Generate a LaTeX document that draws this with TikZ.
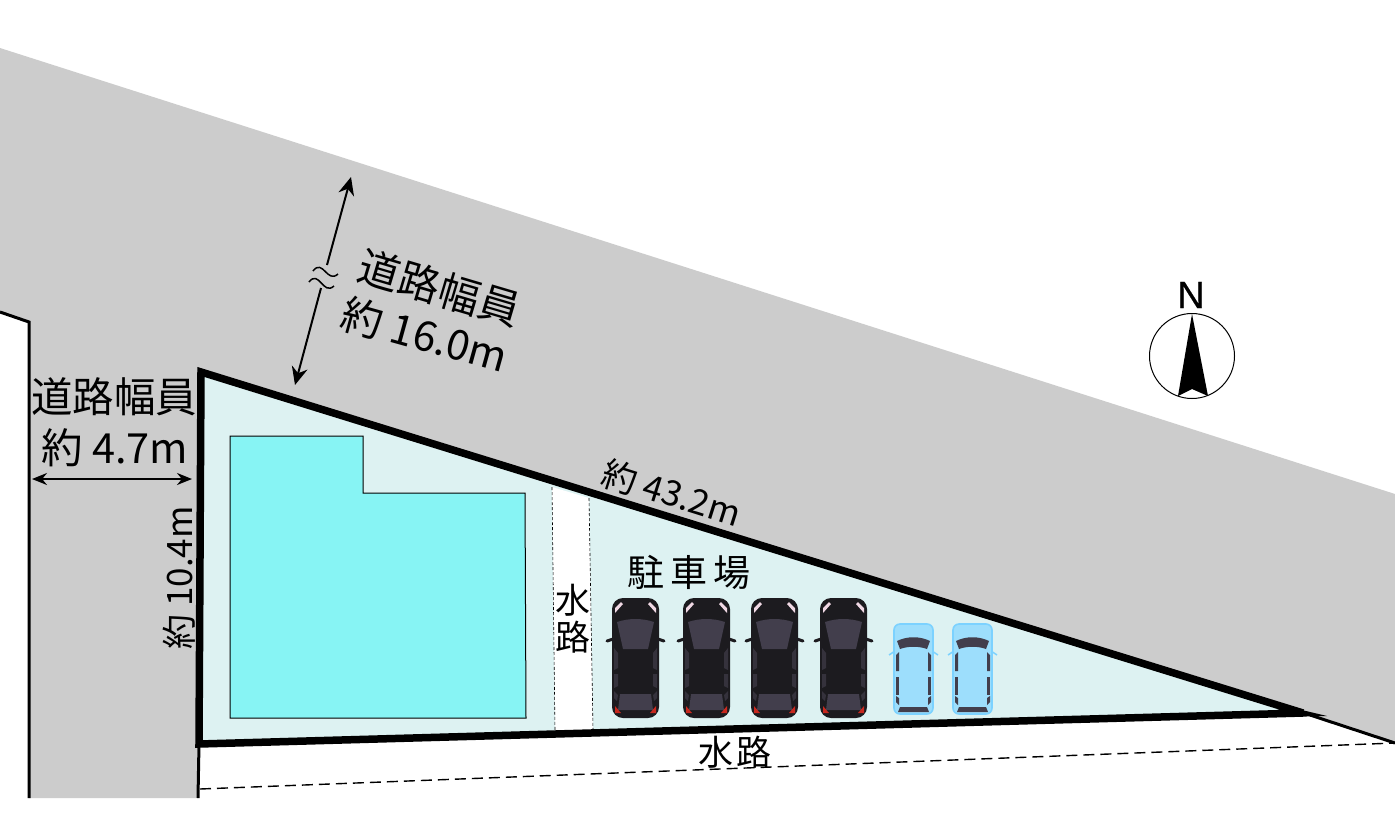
\documentclass[tikz,border=0pt]{standalone}
\usepackage{fontspec}
\setmainfont{Noto Sans CJK JP}
\newfontfamily\latinN[FakeBold=0.6]{Liberation Sans}
\usetikzlibrary{arrows.meta}
\definecolor{roadgray}{HTML}{CCCCCC}
\definecolor{sitecol}{HTML}{DDF2F2}
\definecolor{bldg}{HTML}{87F4F4}
\definecolor{carblack}{HTML}{1C1B1F}
\definecolor{carglass}{HTML}{423E4C}
\definecolor{carside}{HTML}{35323C}
\definecolor{carlight}{HTML}{9DDEFC}
\definecolor{carlightb}{HTML}{7CD2FF}
\definecolor{lamp}{HTML}{F0D8E4}
\definecolor{taillamp}{HTML}{C8281E}
\tikzset{
  x=1pt,y=-1pt,
  label35/.style={inner sep=0pt,font=\fontsize{35}{35}\selectfont},
  label41/.style={inner sep=0pt,font=\fontsize{41.5}{41.5}\selectfont},
  bound/.style={draw=black,line width=3pt,line join=miter},
  dimarrow/.style={draw=black,line width=2pt,{Stealth[length=15pt,width=12pt]}-{Stealth[length=15pt,width=12pt]}},
  halfarrow/.style={draw=black,line width=2pt,-{Stealth[length=18pt,width=16pt]}},
  darkcar/.pic={
    \draw[carblack,line width=3pt,line cap=round] (-5,43) -- (1,41);
    \draw[carblack,line width=3pt,line cap=round] (52,43) -- (46,41);
    \fill[carblack,rounded corners=11pt] (0,0) rectangle (47,120);
    \fill[carglass] (5,24) .. controls (17,20) and (30,20) .. (42,24) -- (36,51) -- (11,51) -- cycle;
    \fill[carglass] (8,96) -- (39,96) -- (41,112) -- (6,112) -- cycle;
    \fill[carside] (2,50) -- (6,55) -- (6,70) -- (2,72) -- cycle;
    \fill[carside] (45,50) -- (41,55) -- (41,70) -- (45,72) -- cycle;
    \fill[carside] (2,76) -- (6,76) -- (6,88) -- (2,90) -- cycle;
    \fill[carside] (45,76) -- (41,76) -- (41,88) -- (45,90) -- cycle;
    \fill[carside] (2,93) -- (6,97) -- (5,103) -- (2,100) -- cycle;
    \fill[carside] (45,93) -- (41,97) -- (42,103) -- (45,100) -- cycle;
    \fill[lamp] (3,15) -- (3,10) -- (9,4) -- (11,6) -- cycle;
    \fill[lamp] (44,15) -- (44,10) -- (38,4) -- (36,6) -- cycle;
    \fill[taillamp] (3,108) -- (9,115) -- (3,115) -- cycle;
    \fill[taillamp] (44,108) -- (38,115) -- (44,115) -- cycle;
  },
  lightcar/.pic={
    \draw[carlightb,line width=1.5pt] (-5,31) -- (1,27);
    \draw[carlightb,line width=1.5pt] (44,31) -- (38,27);
    \filldraw[fill=carlight,draw=carlightb,line width=1.6pt,rounded corners=6pt] (0,0) rectangle (39,90);
    \fill[carglass] (3,17) .. controls (13,12) and (26,12) .. (36,17) -- (33,25) .. controls (25,22) and (14,22) .. (6,25) -- cycle;
    \fill[carglass] (2,31) -- (5,28) -- (5,47) -- (2,47) -- cycle;
    \fill[carglass] (37,31) -- (34,28) -- (34,47) -- (37,47) -- cycle;
    \fill[carglass] (2,53) -- (5,53) -- (5,71) -- (2,71) -- cycle;
    \fill[carglass] (37,53) -- (34,53) -- (34,71) -- (37,71) -- cycle;
    \fill[carglass] (2,72) -- (5,74) -- (5,81) -- (2,78) -- cycle;
    \fill[carglass] (37,72) -- (34,74) -- (34,81) -- (37,78) -- cycle;
    \fill[carglass] (6,83) -- (33,83) -- (35,88) -- (4,88) -- cycle;
  }
}
\begin{document}
\begin{tikzpicture}
\useasboundingbox (0,0) rectangle (1395,815);
\fill[white] (0,0) rectangle (1395,815);
% road
\fill[roadgray] (0,48) -- (1395,494) -- (1395,742) -- (1300,712) -- (200,372) -- (197,798) -- (29,798) -- (29,322) -- (0,312) -- cycle;
% site
\coordinate (siteA) at (201,372);
\coordinate (siteB) at (1303,713);
\coordinate (siteC) at (199,744);
\fill[sitecol] (siteA) -- (siteB) -- (siteC) -- cycle;
% water channel across the site
\fill[white] (552,487) -- (589,498) -- (593,730) -- (555,731) -- cycle;
\draw[black,line width=0.6pt,dash pattern=on 3pt off 2pt] (552,487) -- (555,731);
\draw[black,line width=0.6pt,dash pattern=on 3pt off 2pt] (589,498) -- (593,730);
% building
\filldraw[fill=bldg,draw=black,line width=1pt] (230,436) -- (363,436) -- (363,493) -- (525,493) -- (526,718) -- (230,718) -- cycle;
% site boundary
\draw[black,line width=7.5pt,line join=miter] (siteB) -- (siteA) -- (siteC) -- (siteB);
\fill[black] (1285,706) -- (1327,716) -- (1285,717) -- cycle;
\coordinate (roadEnd) at (1395,743);
\coordinate (tipB) at (1310,715);
\draw[bound] (tipB) -- (roadEnd);
% left road boundary
\coordinate (westA) at (0,312);
\coordinate (westB) at (29,322);
\coordinate (westC) at (29,798);
\draw[bound] (westA) -- (westB) -- (westC);
\coordinate (siteFoot) at (198,798);
\draw[bound] (siteC) -- (siteFoot);
% dashed channel edge
\coordinate (dashA) at (200,789);
\draw[black,line width=1.4pt,dash pattern=on 11pt off 6pt] (dashA) -- (roadEnd);
% cars
\pic at (612,598) {darkcar};
\pic at (683,598) {darkcar};
\pic at (751,598) {darkcar};
\pic at (820,598) {darkcar};
\pic at (894,624) {lightcar};
\pic at (953,624) {lightcar};
% dimension arrows
\coordinate (wA) at (32,479);
\coordinate (wB) at (192,479);
\draw[dimarrow] (wA) -- (wB);
\coordinate (nTip) at (351,177);
\coordinate (nTail) at (327,265);
\coordinate (sTip) at (295,385);
\coordinate (sTail) at (321,288);
\draw[halfarrow] (nTail) -- (nTip);
\draw[halfarrow] (sTail) -- (sTip);
\draw[black,line width=1.5pt] (313,271) .. controls (323,258) and (327,284) .. (338,274);
\draw[black,line width=1.5pt] (309,282) .. controls (319,269) and (323,296) .. (334,286);
% north mark
\node[circle,draw=black,line width=1pt,minimum size=85pt,inner sep=0pt] (compass) at (1192,356) {};
\fill[black] (1192,314) -- (1208,396) -- (1192,389) -- (1178,396) -- cycle;
\node[inner sep=0pt,font=\latinN\fontsize{38}{38}\selectfont] (north) at (1191,295) {N};
% labels
\node[label41,rotate=-16.5] (t1) at (440,288) {道路幅員};
\node[label41,rotate=-15.5] (t2) at (425,335) {約 16.0m};
\node[label41] (t3) at (114,397) {道路幅員};
\node[label41] (t4) at (115,448) {約 4.7m};
\node[label35,rotate=90] (t5) at (179,578) {約 10.4m};
\node[label35,rotate=-17.5] (t6) at (672,493) {約 43.2m};
\node[label35,font=\fontsize{37}{37}\selectfont] (t7) at (689,572) {駐\hspace{6pt}車\hspace{6pt}場};
\node[label35] (t8) at (573,600) {水};
\node[label35] (t9) at (573,637) {路};
\node[label35] (t10) at (735,752) {水\hspace{4pt}路};
\end{tikzpicture}
\end{document}
